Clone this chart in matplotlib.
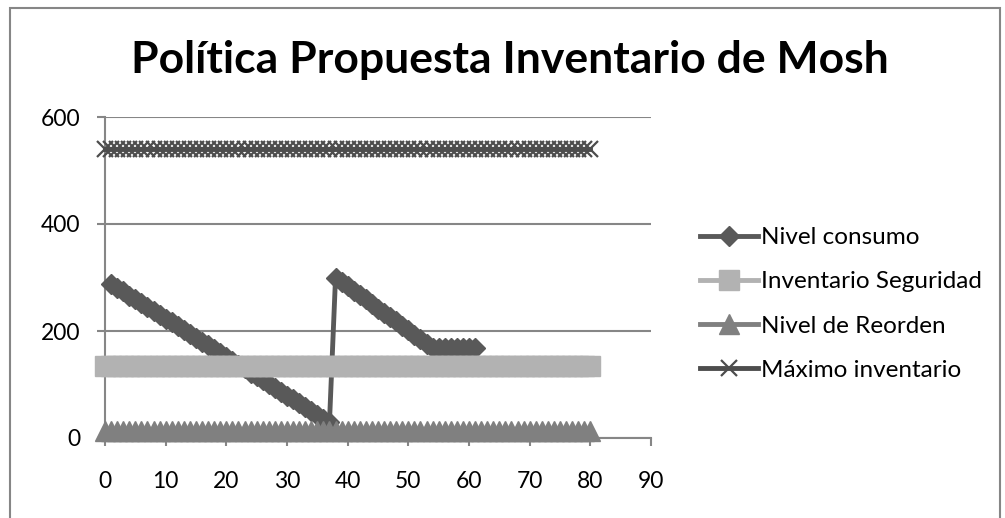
import matplotlib
matplotlib.use("Agg")
import matplotlib.pyplot as plt
from matplotlib.patches import Rectangle

plt.rcParams['font.family'] = ['Lato', 'DejaVu Sans']

# dias de la simulacion
dias = list(range(0, 81))
dias_consumo = list(range(1, 62))

# nivel de consumo: primer ciclo, reabastecimiento y segundo ciclo
nivel_consumo = [288, 281, 274, 266, 259, 252, 245, 238, 230, 223,
                 216, 209, 202, 194, 187, 180, 173, 166, 158, 151,
                 144, 137, 130, 122, 115, 108, 101, 94, 86, 79,
                 72, 65, 58, 50, 43, 36, 29,
                 300, 292, 284, 275, 267, 259, 251, 242, 234, 226,
                 218, 209, 201, 193, 185, 176, 168,
                 168, 168, 168, 168, 168, 168, 168]
inventario_seguridad = [134] * len(dias)
nivel_reorden = [13] * len(dias)
maximo_inventario = [540] * len(dias)

W, H = 1005, 518
fig = plt.figure(figsize=(W / 100, H / 100), dpi=100)

# borde del area del grafico
fig.patches.append(Rectangle((10 / W, -0.1), 990 / W, 1.1 - 8 / H, transform=fig.transFigure,
                             fill=False, edgecolor='#868686', linewidth=1.5))

ax = fig.add_axes([105 / W, 1 - 438 / H, 546 / W, 321 / H])

gris_eje = '#868686'
ax.plot(dias_consumo, nivel_consumo, color='#595959', lw=3.5, marker='D', ms=10.5,
        label='Nivel consumo', clip_on=False, zorder=3)
ax.plot(dias, inventario_seguridad, color='#b2b2b2', lw=3.5, marker='s', ms=14,
        label='Inventario Seguridad', clip_on=False, zorder=4)
ax.plot(dias, nivel_reorden, color='#808080', lw=3.5, marker='^', ms=15,
        label='Nivel de Reorden', clip_on=False, zorder=5)
ax.plot(dias, maximo_inventario, color='#4d4d4d', lw=3.5, marker='x', ms=11.5, mew=1.6,
        label='Máximo inventario', clip_on=False, zorder=6)

ax.set_xlim(0, 90)
ax.set_ylim(0, 600)
ax.set_xticks(range(0, 91, 10))
ax.set_yticks([0, 200, 400, 600])
ax.grid(axis='y', color=gris_eje, lw=1.5)
ax.set_axisbelow(True)
for lado in ['top', 'right']:
    ax.spines[lado].set_visible(False)
for lado in ['left', 'bottom']:
    ax.spines[lado].set_color(gris_eje)
    ax.spines[lado].set_linewidth(1.5)
ax.tick_params(axis='both', direction='out', length=6, width=1.5, color=gris_eje,
               labelsize=16.5, labelcolor='black')
ax.tick_params(axis='x', pad=18)
ax.tick_params(axis='y', pad=12)

fig.text(0.507, 0.885, 'Política Propuesta Inventario de Mosh', ha='center', va='center',
         fontsize=32, fontweight='bold')

ax.legend(loc='center left', bbox_to_anchor=(690 / W, 1 - 304 / H), bbox_transform=fig.transFigure,
          frameon=False, fontsize=17.5, handlelength=2.4, handletextpad=0.12, labelspacing=0.95,
          borderaxespad=0)

fig.savefig('out.png', dpi=100)
